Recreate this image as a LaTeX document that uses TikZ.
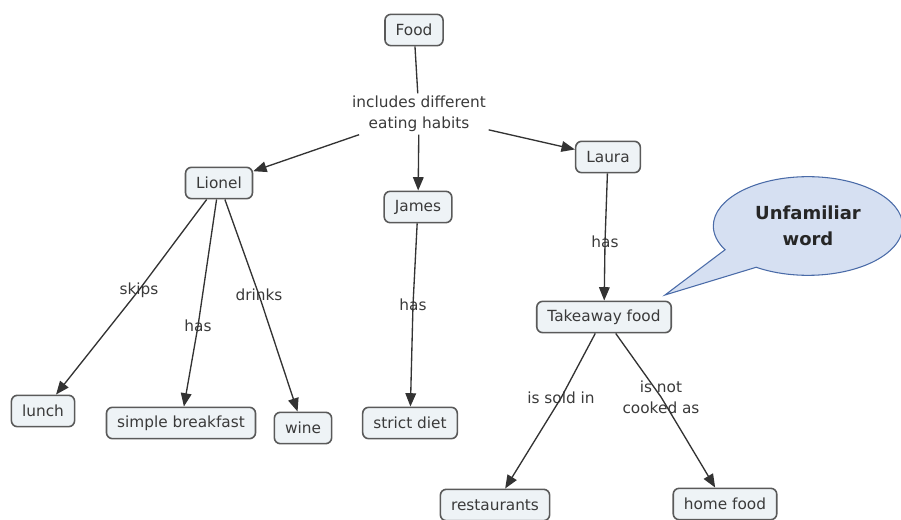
\documentclass[tikz,border=0pt]{standalone}
\usepackage{fontspec}
\setmainfont{DejaVu Sans}
\usetikzlibrary{arrows.meta,shapes.callouts}
\definecolor{nodefill}{HTML}{EEF3F6}
\definecolor{nodeline}{HTML}{5A5A5A}
\definecolor{linkline}{HTML}{333333}
\definecolor{textgray}{HTML}{3A3A3A}
\definecolor{bubblefill}{HTML}{D6E0F2}
\definecolor{bubbleline}{HTML}{4A6BA8}

\begin{document}
\begin{tikzpicture}[x=0.75pt, y=-0.75pt,
  concept/.style={draw=nodeline, fill=nodefill, rounded corners=4.5pt, line width=1.2pt,
    font=\fontsize{11.5}{13}\selectfont, text=textgray, inner xsep=8pt, minimum height=23.5pt},
  linklabel/.style={font=\fontsize{11.5}{15.5}\selectfont, text=textgray, align=center, inner sep=1pt},
  conn/.style={draw=linkline, line width=1pt, -{Triangle[length=10pt,width=8pt]}}]
  \useasboundingbox (0,0) rectangle (901,520);

  % Concepts
  \node[concept] (food) at (414,30) {Food};
  \node[concept] (lionel) at (219,183) {Lionel};
  \node[concept] (james) at (418,207) {James};
  \node[concept] (laura) at (608,157) {Laura};
  \node[concept] (takeaway) at (604,317) {Takeaway food};
  \node[concept] (lunch) at (43,411) {lunch};
  \node[concept] (breakfast) at (181,423) {simple breakfast};
  \node[concept] (wine) at (303,428) {wine};
  \node[concept] (diet) at (410,423) {strict diet};
  \node[concept] (restaurants) at (495,505) {restaurants};
  \node[concept] (homefood) at (725,504) {home food};

  % Link labels
  \node[linklabel, inner sep=2pt] (includes) at (419,114) {includes different\\eating habits};
  \node[linklabel] (skips) at (139,290) {skips};
  \node[linklabel] (hasL) at (198,326) {has};
  \node[linklabel] (drinks) at (259,295) {drinks};
  \node[linklabel] (hasJ) at (413,305) {has};
  \node[linklabel] (hasLa) at (605,242) {has};
  \node[linklabel] (sold) at (561,398) {is sold in};
  \node[linklabel] (cooked) at (661,397) {is not\\cooked as};

  % Connectors
  \draw[draw=linkline, line width=1pt] (food) -- (includes);
  \draw[conn] (includes) -- (lionel);
  \draw[conn] (includes) -- (james);
  \draw[conn] (includes) -- (laura);
  \draw[conn] (lionel) -- (skips.center) -- (lunch);
  \draw[conn] (lionel) -- (hasL.center) -- (breakfast);
  \draw[conn] (lionel) -- (drinks.center) -- (wine);
  \draw[conn] (james) -- (hasJ.center) -- (diet);
  \draw[conn] (laura) -- (hasLa.center) -- (takeaway);
  \draw[conn] (takeaway) -- (sold.center) -- (restaurants);
  \draw[conn] (takeaway) -- (cooked.center) -- (homefood);

  % Callout
  \coordinate (tip) at (665,295);
  \node[ellipse callout, draw=bubbleline, fill=bubblefill, line width=0.8pt,
    minimum width=142pt, minimum height=74pt, inner sep=0pt, callout pointer arc=28,
    callout absolute pointer={(tip)}, align=center, text=black!85,
    font=\fontsize{13.5}{19.5}\bfseries] (bubble) at (808,226) {Unfamiliar\\word};
\end{tikzpicture}
\end{document}
